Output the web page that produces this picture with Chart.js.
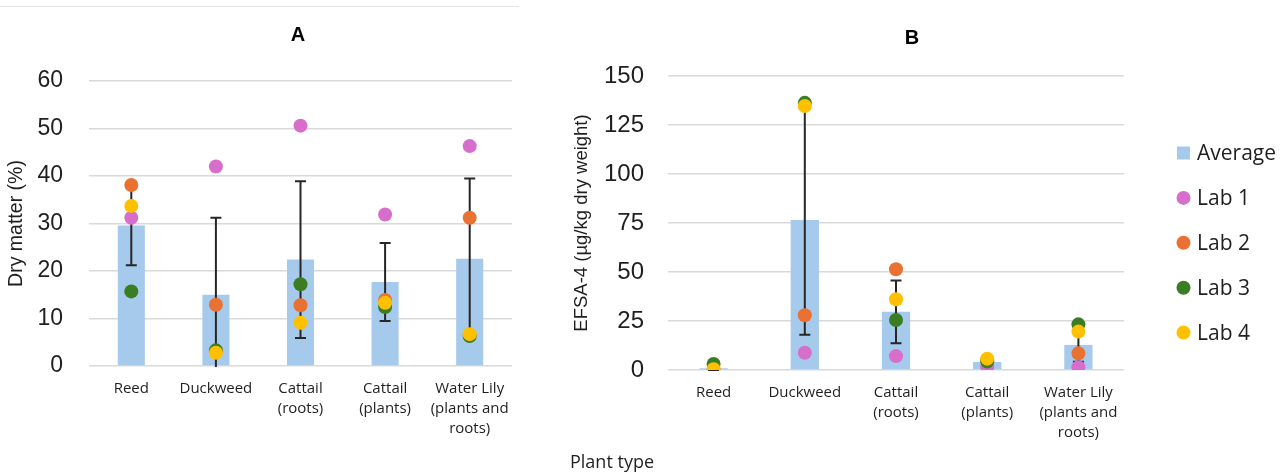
<!DOCTYPE html>
<html>
<head>
<meta charset="utf-8">
<script src="https://cdn.jsdelivr.net/npm/chart.js@4.4.1/dist/chart.umd.min.js"></script>
<style>
  html, body { margin: 0; padding: 0; background: #ffffff; }
  body { width: 1284px; height: 472px; position: relative; overflow: hidden; }
  #rule { position: absolute; left: 0; top: 6px; width: 519px; height: 0; border-top: 1px solid #e6e6e6; }
  #wrapA { position: absolute; left: 0; top: 0; width: 530px; height: 472px; }
  #wrapB { position: absolute; left: 540px; top: 0; width: 744px; height: 472px; }
  canvas { display: block; }
</style>
</head>
<body>
<div id="rule"></div>
<div id="wrapA"><canvas id="chartA" width="530" height="472"></canvas></div>
<div id="wrapB"><canvas id="chartB" width="744" height="472"></canvas></div>
<script>
// Plant types on the category axis (multi-line labels)
const plantTypes = [
  ['Reed'],
  ['Duckweed'],
  ['Cattail', '(roots)'],
  ['Cattail', '(plants)'],
  ['Water Lily', '(plants and', 'roots)']
];

const seriesNames = ['Average', 'Lab 1', 'Lab 2', 'Lab 3', 'Lab 4'];

// Panel A: dry matter (%)
const avgA  = [29.6, 15.0, 22.4, 17.7, 22.6];
const sdA   = [8.4, 16.2, 16.5, 8.2, 16.9];
const lab1A = [31.2, 42.0, 50.6, 31.9, 46.3];
const lab2A = [38.1, 12.9, 12.8, 13.9, 31.2];
const lab3A = [15.7, 3.3, 17.2, 12.4, 6.3];
const lab4A = [33.7, 2.8, 9.1, 13.3, 6.7];
const ticksA = [0, 10, 20, 30, 40, 50, 60];

// Panel B: EFSA-4 (µg/kg dry weight)
const avgB  = [0.9, 76.5, 29.7, 4.1, 12.8];
const sdB   = [1.3, 58.5, 16.0, 1.8, 8.6];
const lab1B = [0.0, 8.8, 7.1, 1.4, 1.4];
const lab2B = [0.0, 27.9, 51.4, 4.9, 8.5];
const lab3B = [3.1, 136.3, 25.5, 4.3, 23.3];
const lab4B = [0.4, 134.7, 36.1, 5.8, 19.6];
const ticksB = [0, 25, 50, 75, 100, 125, 150];

const COLORS = {
  bar: '#A6CAEC',
  lab1: '#D86ECC',
  lab2: '#E97132',
  lab3: '#3B7D23',
  lab4: '#FFC000',
  whisker: '#262626',
  grid: '#d9d9d9',
  text: '#1f1f1f'
};

// Vertical whiskers with caps, drawn right after the bar dataset
const errorBars = {
  id: 'errorBars',
  afterDatasetDraw(chart, args, opts) {
    const ds = chart.data.datasets[args.index];
    if (!ds.errors) return;
    const { ctx, chartArea } = chart;
    const xs = chart.scales.x, ys = chart.scales.y;
    ctx.save();
    ctx.beginPath();
    ctx.rect(chartArea.left, chartArea.top - 2, chartArea.width, chartArea.height + 3);
    ctx.clip();
    ctx.strokeStyle = opts.color;
    ctx.lineWidth = opts.width;
    ds.data.forEach((v, i) => {
      const e = ds.errors[i];
      const px = xs.getPixelForValue(i);
      const top = ys.getPixelForValue(v + e);
      const bot = ys.getPixelForValue(v - e);
      const h = opts.cap / 2;
      ctx.beginPath();
      ctx.moveTo(px, top); ctx.lineTo(px, bot);
      ctx.moveTo(px - h, top); ctx.lineTo(px + h, top);
      ctx.moveTo(px - h, bot); ctx.lineTo(px + h, bot);
      ctx.stroke();
    });
    ctx.restore();
  }
};

// Panel heading, optional side legend and footer caption
const decorations = {
  id: 'decorations',
  afterDraw(chart, args, o) {
    const ctx = chart.ctx;
    ctx.save();
    ctx.fillStyle = '#000';
    ctx.textAlign = 'center';
    ctx.textBaseline = 'middle';
    ctx.font = 'bold 20px "Liberation Sans", Arial, sans-serif';
    ctx.fillText(o.heading, o.headingX, o.headingY);

    if (o.legend) {
      const L = o.legend;
      ctx.font = '21px "Open Sans", sans-serif';
      ctx.textAlign = 'left';
      chart.data.datasets.forEach((ds, i) => {
        const cy = L.y + i * L.step;
        if (ds.type === 'bar') {
          ctx.fillStyle = ds.backgroundColor;
          ctx.fillRect(L.x - 6.5, cy - 6.5, 13, 13);
        } else {
          ctx.fillStyle = ds.pointBackgroundColor;
          ctx.beginPath();
          ctx.arc(L.x, cy, 7, 0, Math.PI * 2);
          ctx.fill();
        }
        ctx.fillStyle = COLORS.text;
        ctx.fillText(ds.label, L.textX, cy + 1);
      });
    }

    if (o.footer) {
      ctx.font = '18px "Open Sans", sans-serif';
      ctx.textAlign = 'left';
      ctx.textBaseline = 'alphabetic';
      ctx.fillStyle = COLORS.text;
      ctx.fillText(o.footer.text, o.footer.x, o.footer.y);
    }
    ctx.restore();
  }
};

function pointSet(label, values, color, order) {
  return {
    type: 'line',
    label: label,
    data: values,
    showLine: false,
    order: order,
    backgroundColor: color,
    borderColor: color,
    pointBackgroundColor: color,
    pointBorderWidth: 0,
    pointRadius: 7,
    pointHoverRadius: 7
  };
}

function buildChart(canvasId, p) {
  const ctx = document.getElementById(canvasId);
  return new Chart(ctx, {
    type: 'bar',
    data: {
      labels: plantTypes,
      datasets: [
        {
          type: 'bar',
          label: seriesNames[0],
          data: p.avg,
          errors: p.sd,
          order: 5,
          backgroundColor: COLORS.bar,
          borderWidth: 0,
          categoryPercentage: 1,
          barPercentage: p.barFrac
        },
        pointSet(seriesNames[1], p.lab1, COLORS.lab1, 4),
        pointSet(seriesNames[2], p.lab2, COLORS.lab2, 3),
        pointSet(seriesNames[3], p.lab3, COLORS.lab3, 2),
        pointSet(seriesNames[4], p.lab4, COLORS.lab4, 1)
      ]
    },
    options: {
      responsive: false,
      animation: false,
      events: [],
      layout: { padding: { top: p.top, right: p.right, left: 0, bottom: 0 } },
      plugins: {
        legend: { display: false },
        title: { display: false },
        tooltip: { enabled: false },
        errorBars: { color: COLORS.whisker, width: 2, cap: 11 },
        decorations: p.decor
      },
      scales: {
        x: {
          offset: true,
          grid: { display: false, drawTicks: false },
          border: { display: false },
          ticks: {
            autoSkip: false,
            maxRotation: 0,
            minRotation: 0,
            padding: p.xPad,
            color: COLORS.text,
            font: { family: '"Open Sans", sans-serif', size: 15, lineHeight: 20 / 15 }
          },
          afterFit(s) { s.height = p.xHeight; }
        },
        y: {
          min: p.ticks[0],
          max: p.ticks[p.ticks.length - 1],
          afterBuildTicks(s) { s.ticks = p.ticks.map(v => ({ value: v })); },
          grid: { color: COLORS.grid, lineWidth: 1.5, drawTicks: false },
          border: { display: false },
          ticks: {
            padding: p.yPad,
            color: COLORS.text,
            font: { family: '"Liberation Sans", Arial, sans-serif', size: p.yTickSize }
          },
          title: {
            display: true,
            text: p.yTitle,
            color: COLORS.text,
            font: { family: '"Liberation Sans", Arial, sans-serif', size: p.yTitleSize },
            padding: { top: p.yTitlePad, bottom: 0 }
          },
          afterFit(s) { s.width = p.yWidth; }
        }
      }
    },
    plugins: [errorBars, decorations]
  });
}

buildChart('chartA', {
  avg: avgA, sd: sdA, lab1: lab1A, lab2: lab2A, lab3: lab3A, lab4: lab4A,
  ticks: ticksA,
  barFrac: 0.32,
  top: 81, right: 18,
  xPad: 13, xHeight: 106,
  yPad: 26, yWidth: 89, yTickSize: 23,
  yTitle: 'Dry matter (%)', yTitleSize: 19.5, yTitlePad: 5,
  decor: { heading: 'A', headingX: 298, headingY: 35 }
});

buildChart('chartB', {
  avg: avgB, sd: sdB, lab1: lab1B, lab2: lab2B, lab3: lab3B, lab4: lab4B,
  ticks: ticksB,
  barFrac: 0.31,
  top: 76, right: 160,
  xPad: 13, xHeight: 102,
  yPad: 24, yWidth: 128, yTickSize: 24,
  yTitle: 'EFSA-4 (µg/kg dry weight)', yTitleSize: 18.5, yTitlePad: 31,
  decor: {
    heading: 'B', headingX: 372, headingY: 38,
    legend: { x: 643.5, textX: 657, y: 153, step: 44.9 },
    footer: { text: 'Plant type', x: 30, y: 468 }
  }
});
</script>
</body>
</html>
